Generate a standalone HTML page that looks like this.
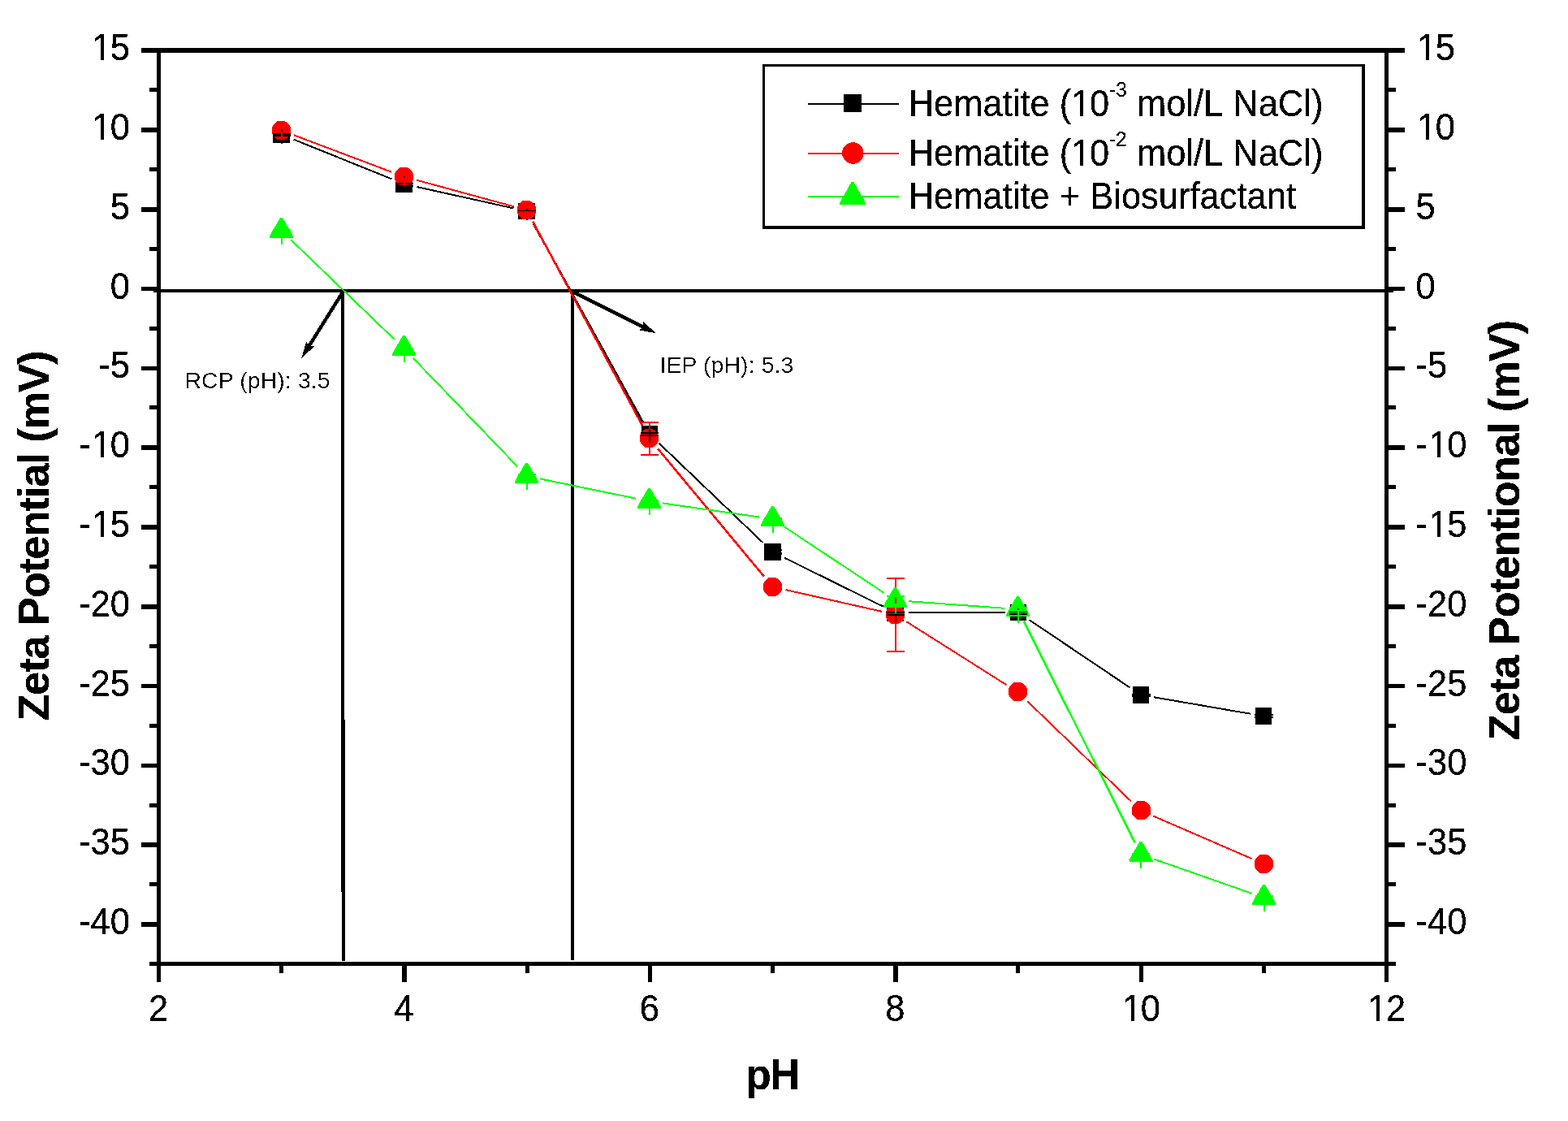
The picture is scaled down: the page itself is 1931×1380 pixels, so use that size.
<!DOCTYPE html>
<html lang="en">
<head>
<meta charset="utf-8">
<title>Zeta Potential vs pH</title>
<style>
html,body{margin:0;padding:0;background:#fff;}
body{width:1931px;height:1380px;overflow:hidden;}
svg{display:block;}
</style>
</head>
<body>
<svg width="1931" height="1380" viewBox="0 0 1931 1380">
<rect width="1931" height="1380" fill="#fff"/>
<g shape-rendering="crispEdges">
<rect x="174" y="59" width="1556" height="6" fill="#000"/>
<rect x="184" y="1184" width="1535" height="5" fill="#000"/>
<rect x="193" y="59" width="5" height="1150" fill="#000"/>
<rect x="1705" y="59" width="5" height="1150" fill="#000"/>
<rect x="184" y="108" width="10" height="5" fill="#000"/>
<rect x="1709" y="108" width="10" height="5" fill="#000"/>
<rect x="174" y="157" width="20" height="6" fill="#000"/>
<rect x="1709" y="157" width="21" height="6" fill="#000"/>
<rect x="184" y="206" width="10" height="5" fill="#000"/>
<rect x="1709" y="206" width="10" height="5" fill="#000"/>
<rect x="174" y="255" width="20" height="6" fill="#000"/>
<rect x="1709" y="255" width="21" height="6" fill="#000"/>
<rect x="184" y="304" width="10" height="5" fill="#000"/>
<rect x="1709" y="304" width="10" height="5" fill="#000"/>
<rect x="174" y="353" width="20" height="5" fill="#000"/>
<rect x="1709" y="353" width="21" height="5" fill="#000"/>
<rect x="184" y="402" width="10" height="5" fill="#000"/>
<rect x="1709" y="402" width="10" height="5" fill="#000"/>
<rect x="174" y="451" width="20" height="5" fill="#000"/>
<rect x="1709" y="451" width="21" height="5" fill="#000"/>
<rect x="184" y="499" width="10" height="5" fill="#000"/>
<rect x="1709" y="499" width="10" height="5" fill="#000"/>
<rect x="174" y="548" width="20" height="6" fill="#000"/>
<rect x="1709" y="548" width="21" height="6" fill="#000"/>
<rect x="184" y="597" width="10" height="5" fill="#000"/>
<rect x="1709" y="597" width="10" height="5" fill="#000"/>
<rect x="174" y="646" width="20" height="6" fill="#000"/>
<rect x="1709" y="646" width="21" height="6" fill="#000"/>
<rect x="184" y="695" width="10" height="5" fill="#000"/>
<rect x="1709" y="695" width="10" height="5" fill="#000"/>
<rect x="174" y="744" width="20" height="6" fill="#000"/>
<rect x="1709" y="744" width="21" height="6" fill="#000"/>
<rect x="184" y="793" width="10" height="5" fill="#000"/>
<rect x="1709" y="793" width="10" height="5" fill="#000"/>
<rect x="174" y="842" width="20" height="5" fill="#000"/>
<rect x="1709" y="842" width="21" height="5" fill="#000"/>
<rect x="184" y="891" width="10" height="5" fill="#000"/>
<rect x="1709" y="891" width="10" height="5" fill="#000"/>
<rect x="174" y="940" width="20" height="5" fill="#000"/>
<rect x="1709" y="940" width="21" height="5" fill="#000"/>
<rect x="184" y="989" width="10" height="5" fill="#000"/>
<rect x="1709" y="989" width="10" height="5" fill="#000"/>
<rect x="174" y="1037" width="20" height="6" fill="#000"/>
<rect x="1709" y="1037" width="21" height="6" fill="#000"/>
<rect x="184" y="1086" width="10" height="5" fill="#000"/>
<rect x="1709" y="1086" width="10" height="5" fill="#000"/>
<rect x="174" y="1135" width="20" height="6" fill="#000"/>
<rect x="1709" y="1135" width="21" height="6" fill="#000"/>
<rect x="344" y="1188" width="5" height="10" fill="#000"/>
<rect x="495" y="1188" width="6" height="21" fill="#000"/>
<rect x="647" y="1188" width="5" height="10" fill="#000"/>
<rect x="798" y="1188" width="5" height="21" fill="#000"/>
<rect x="949" y="1188" width="5" height="10" fill="#000"/>
<rect x="1100" y="1188" width="6" height="21" fill="#000"/>
<rect x="1251" y="1188" width="5" height="10" fill="#000"/>
<rect x="1403" y="1188" width="5" height="21" fill="#000"/>
<rect x="1554" y="1188" width="5" height="10" fill="#000"/>
<rect x="189" y="356" width="1527" height="4" fill="#000"/>
<rect x="420" y="358" width="4" height="528" fill="#000"/>
<rect x="420" y="886" width="5" height="212" fill="#000"/>
<rect x="421" y="1098" width="4" height="85" fill="#000"/>
<rect x="703" y="358" width="4" height="824" fill="#000"/>
</g>
<g shape-rendering="crispEdges">
<line x1="422.5" y1="359.0" x2="380.3" y2="426.4" stroke="#000" stroke-width="4.4"/>
<polygon points="371.3,440.8 377.3,420.3 380.3,426.4 387.1,426.5" fill="#000"/>
<line x1="705.0" y1="359.0" x2="792.8" y2="402.7" stroke="#000" stroke-width="4.4"/>
<polygon points="808.0,410.3 787.1,406.4 792.8,402.7 792.2,396.0" fill="#000"/>
</g>
<g shape-rendering="crispEdges">
<line x1="361.8" y1="171.7" x2="482.2" y2="220.3" stroke="#000" stroke-width="2"/>
<line x1="513.6" y1="230.1" x2="632.4" y2="256.4" stroke="#000" stroke-width="2"/>
<line x1="656.5" y1="274.4" x2="792.0" y2="520.1" stroke="#000" stroke-width="2.6"/>
<line x1="811.9" y1="545.9" x2="939.6" y2="668.1" stroke="#000" stroke-width="2"/>
<line x1="966.3" y1="686.8" x2="1087.7" y2="746.7" stroke="#000" stroke-width="2"/>
<line x1="1119.0" y1="754.0" x2="1237.5" y2="754.0" stroke="#000" stroke-width="2"/>
<line x1="1267.7" y1="763.2" x2="1391.3" y2="846.3" stroke="#000" stroke-width="2"/>
<line x1="1421.3" y1="858.3" x2="1539.7" y2="878.7" stroke="#000" stroke-width="2"/>
<line x1="361.9" y1="166.3" x2="482.1" y2="211.7" stroke="#f00" stroke-width="2"/>
<line x1="513.4" y1="221.8" x2="632.6" y2="254.2" stroke="#f00" stroke-width="2"/>
<line x1="656.3" y1="273.0" x2="791.7" y2="525.0" stroke="#f00" stroke-width="2.6"/>
<line x1="810.0" y1="552.2" x2="941.0" y2="709.8" stroke="#f00" stroke-width="2.6"/>
<line x1="967.6" y1="726.1" x2="1086.4" y2="752.9" stroke="#f00" stroke-width="2"/>
<line x1="1116.4" y1="765.3" x2="1239.6" y2="843.2" stroke="#f00" stroke-width="2"/>
<line x1="1265.4" y1="863.4" x2="1393.1" y2="986.6" stroke="#f00" stroke-width="2"/>
<line x1="1420.1" y1="1004.5" x2="1541.4" y2="1057.0" stroke="#f00" stroke-width="2"/>
<line x1="358.4" y1="295.4" x2="485.6" y2="417.6" stroke="#0f0" stroke-width="2"/>
<line x1="508.9" y1="440.9" x2="637.1" y2="574.1" stroke="#0f0" stroke-width="2"/>
<line x1="664.7" y1="589.3" x2="783.3" y2="613.7" stroke="#0f0" stroke-width="2"/>
<line x1="815.8" y1="619.4" x2="935.2" y2="636.6" stroke="#0f0" stroke-width="2"/>
<line x1="965.3" y1="648.1" x2="1088.7" y2="729.9" stroke="#0f0" stroke-width="2"/>
<line x1="1119.0" y1="740.2" x2="1237.0" y2="748.8" stroke="#0f0" stroke-width="2"/>
<line x1="1260.9" y1="764.7" x2="1397.6" y2="1037.3" stroke="#0f0" stroke-width="2.6"/>
<line x1="1420.6" y1="1057.4" x2="1540.9" y2="1099.6" stroke="#0f0" stroke-width="2"/>
<rect x="336" y="155" width="21" height="21" fill="#000"/>
<rect x="487" y="216" width="21" height="21" fill="#000"/>
<rect x="638" y="250" width="21" height="20" fill="#000"/>
<rect x="790" y="524" width="20" height="21" fill="#000"/>
<rect x="941" y="669" width="21" height="21" fill="#000"/>
<rect x="1092" y="744" width="21" height="21" fill="#000"/>
<rect x="1244" y="744" width="20" height="20" fill="#000"/>
<rect x="1395" y="845" width="20" height="21" fill="#000"/>
<rect x="1546" y="871" width="20" height="21" fill="#000"/>
<path d="M341 149h10v1h-10zM340 150h13v1h-13zM339 151h15v1h-15zM338 152h17v1h-17zM337 153h19v1h-19zM336 154h21v1h-21zM336 155h21v1h-21zM335 156h23v1h-23zM335 157h23v1h-23zM335 158h23v1h-23zM335 159h23v1h-23zM335 160h23v1h-23zM335 161h23v1h-23zM335 162h23v1h-23zM335 163h23v1h-23zM335 164h23v1h-23zM336 165h21v1h-21zM336 166h21v1h-21zM337 167h19v1h-19zM338 168h17v1h-17zM339 169h15v1h-15zM340 170h13v1h-13zM341 171h10v1h-10z" fill="#f00"/>
<path d="M492 206h10v1h-10zM491 207h13v1h-13zM490 208h15v1h-15zM489 209h17v1h-17zM488 210h19v1h-19zM487 211h21v1h-21zM487 212h21v1h-21zM486 213h23v1h-23zM486 214h23v1h-23zM486 215h23v1h-23zM486 216h23v1h-23zM486 217h23v1h-23zM486 218h23v1h-23zM486 219h23v1h-23zM486 220h23v1h-23zM486 221h23v1h-23zM487 222h21v1h-21zM487 223h21v1h-21zM488 224h19v1h-19zM489 225h17v1h-17zM490 226h15v1h-15zM491 227h13v1h-13zM492 228h10v1h-10z" fill="#f00"/>
<path d="M643 247h10v1h-10zM642 248h13v1h-13zM641 249h15v1h-15zM640 250h17v1h-17zM639 251h19v1h-19zM638 252h21v1h-21zM638 253h21v1h-21zM637 254h23v1h-23zM637 255h23v1h-23zM637 256h23v1h-23zM637 257h23v1h-23zM637 258h23v1h-23zM637 259h23v1h-23zM637 260h23v1h-23zM637 261h23v1h-23zM637 262h23v1h-23zM638 263h21v1h-21zM638 264h21v1h-21zM639 265h19v1h-19zM640 266h17v1h-17zM641 267h15v1h-15zM642 268h13v1h-13zM643 269h10v1h-10z" fill="#f00"/>
<path d="M794 528h10v1h-10zM793 529h13v1h-13zM792 530h15v1h-15zM791 531h17v1h-17zM790 532h19v1h-19zM789 533h21v1h-21zM789 534h21v1h-21zM788 535h23v1h-23zM788 536h23v1h-23zM788 537h23v1h-23zM788 538h23v1h-23zM788 539h23v1h-23zM788 540h23v1h-23zM788 541h23v1h-23zM788 542h23v1h-23zM788 543h23v1h-23zM789 544h21v1h-21zM789 545h21v1h-21zM790 546h19v1h-19zM791 547h17v1h-17zM792 548h15v1h-15zM793 549h13v1h-13zM794 550h10v1h-10z" fill="#f00"/>
<path d="M946 711h10v1h-10zM945 712h13v1h-13zM944 713h15v1h-15zM943 714h17v1h-17zM942 715h19v1h-19zM941 716h21v1h-21zM941 717h21v1h-21zM940 718h23v1h-23zM940 719h23v1h-23zM940 720h23v1h-23zM940 721h23v1h-23zM940 722h23v1h-23zM940 723h23v1h-23zM940 724h23v1h-23zM940 725h23v1h-23zM940 726h23v1h-23zM941 727h21v1h-21zM941 728h21v1h-21zM942 729h19v1h-19zM943 730h17v1h-17zM944 731h15v1h-15zM945 732h13v1h-13zM946 733h10v1h-10z" fill="#f00"/>
<path d="M1097 745h10v1h-10zM1096 746h13v1h-13zM1095 747h15v1h-15zM1094 748h17v1h-17zM1093 749h19v1h-19zM1092 750h21v1h-21zM1092 751h21v1h-21zM1091 752h23v1h-23zM1091 753h23v1h-23zM1091 754h23v1h-23zM1091 755h23v1h-23zM1091 756h23v1h-23zM1091 757h23v1h-23zM1091 758h23v1h-23zM1091 759h23v1h-23zM1091 760h23v1h-23zM1092 761h21v1h-21zM1092 762h21v1h-21zM1093 763h19v1h-19zM1094 764h17v1h-17zM1095 765h15v1h-15zM1096 766h13v1h-13zM1097 767h10v1h-10z" fill="#f00"/>
<path d="M1248 840h10v1h-10zM1247 841h13v1h-13zM1246 842h15v1h-15zM1245 843h17v1h-17zM1244 844h19v1h-19zM1243 845h21v1h-21zM1243 846h21v1h-21zM1242 847h23v1h-23zM1242 848h23v1h-23zM1242 849h23v1h-23zM1242 850h23v1h-23zM1242 851h23v1h-23zM1242 852h23v1h-23zM1242 853h23v1h-23zM1242 854h23v1h-23zM1242 855h23v1h-23zM1243 856h21v1h-21zM1243 857h21v1h-21zM1244 858h19v1h-19zM1245 859h17v1h-17zM1246 860h15v1h-15zM1247 861h13v1h-13zM1248 862h10v1h-10z" fill="#f00"/>
<path d="M1400 986h10v1h-10zM1399 987h13v1h-13zM1398 988h15v1h-15zM1397 989h17v1h-17zM1396 990h19v1h-19zM1395 991h21v1h-21zM1395 992h21v1h-21zM1394 993h23v1h-23zM1394 994h23v1h-23zM1394 995h23v1h-23zM1394 996h23v1h-23zM1394 997h23v1h-23zM1394 998h23v1h-23zM1394 999h23v1h-23zM1394 1000h23v1h-23zM1394 1001h23v1h-23zM1395 1002h21v1h-21zM1395 1003h21v1h-21zM1396 1004h19v1h-19zM1397 1005h17v1h-17zM1398 1006h15v1h-15zM1399 1007h13v1h-13zM1400 1008h10v1h-10z" fill="#f00"/>
<path d="M1551 1052h10v1h-10zM1550 1053h13v1h-13zM1549 1054h15v1h-15zM1548 1055h17v1h-17zM1547 1056h19v1h-19zM1546 1057h21v1h-21zM1546 1058h21v1h-21zM1545 1059h23v1h-23zM1545 1060h23v1h-23zM1545 1061h23v1h-23zM1545 1062h23v1h-23zM1545 1063h23v1h-23zM1545 1064h23v1h-23zM1545 1065h23v1h-23zM1545 1066h23v1h-23zM1545 1067h23v1h-23zM1546 1068h21v1h-21zM1546 1069h21v1h-21zM1547 1070h19v1h-19zM1548 1071h17v1h-17zM1549 1072h15v1h-15zM1550 1073h13v1h-13zM1551 1074h10v1h-10z" fill="#f00"/>
<polygon points="345,268 348,268 361,290.5 361,293 332,293 332,290.5" fill="#0f0"/>
<polygon points="496,413 499,413 512,435.5 512,438 483,438 483,435.5" fill="#0f0"/>
<polygon points="647,570 650,570 663,592.5 663,595 634,595 634,592.5" fill="#0f0"/>
<polygon points="798,601 801,601 814,623.5 814,626 785,626 785,623.5" fill="#0f0"/>
<polygon points="950,623 953,623 966,645.5 966,648 937,648 937,645.5" fill="#0f0"/>
<polygon points="1101,723 1104,723 1117,745.5 1117,748 1088,748 1088,745.5" fill="#0f0"/>
<polygon points="1252,734 1255,734 1268,756.5 1268,759 1239,759 1239,756.5" fill="#0f0"/>
<polygon points="1403.5,1036 1406.5,1036 1419.5,1058.5 1419.5,1061 1390.5,1061 1390.5,1058.5" fill="#0f0"/>
<polygon points="1555,1089 1558,1089 1571,1111.5 1571,1114 1542,1114 1542,1111.5" fill="#0f0"/>
<rect x="336" y="164" width="22" height="4" fill="#000"/>
<rect x="346" y="159" width="2" height="3" fill="#000"/>
<rect x="346" y="162" width="2" height="10" fill="#f00"/>
<rect x="346" y="176" width="2" height="1" fill="#000"/>
<rect x="487" y="225" width="22" height="2" fill="#000"/>
<rect x="487" y="228" width="22" height="2" fill="#000"/>
<rect x="497" y="225" width="2" height="4" fill="#f00"/>
<rect x="497" y="217" width="2" height="1" fill="#000"/>
<rect x="638" y="259" width="22" height="1" fill="#000"/>
<rect x="648" y="257" width="2" height="2" fill="#000"/>
<rect x="648" y="270" width="2" height="1" fill="#000"/>
<rect x="789" y="519" width="22" height="2" fill="#f00"/>
<rect x="789" y="559" width="22" height="2" fill="#f00"/>
<rect x="799" y="521" width="2" height="8" fill="#f00"/>
<rect x="799" y="551" width="2" height="8" fill="#f00"/>
<rect x="789" y="532" width="22" height="2" fill="#000"/>
<rect x="789" y="535" width="22" height="2" fill="#000"/>
<rect x="799" y="529" width="2" height="16" fill="#000"/>
<rect x="941" y="676" width="22" height="2" fill="#000"/>
<rect x="941" y="680" width="22" height="3" fill="#000"/>
<rect x="1092" y="711" width="22" height="2" fill="#f00"/>
<rect x="1092" y="801" width="22" height="2" fill="#f00"/>
<rect x="1102" y="713" width="2" height="10" fill="#f00"/>
<rect x="1102" y="768" width="2" height="33" fill="#f00"/>
<rect x="1102" y="735" width="2" height="8" fill="#f00"/>
<rect x="1092" y="733" width="22" height="2" fill="#0f0"/>
<rect x="1092" y="753" width="22" height="2" fill="#000"/>
<rect x="1092" y="756" width="22" height="2" fill="#000"/>
<rect x="1102" y="758" width="2" height="8" fill="#000"/>
<rect x="1102" y="748" width="2" height="7" fill="#0f0"/>
<rect x="1243" y="747" width="22" height="2" fill="#0f0"/>
<rect x="1243" y="753" width="22" height="1" fill="#000"/>
<rect x="1243" y="755" width="22" height="2" fill="#000"/>
<rect x="1253" y="751" width="2" height="16" fill="#0f0"/>
<rect x="1253" y="749" width="2" height="2" fill="#000"/>
<rect x="1394" y="854" width="23" height="4" fill="#000"/>
<rect x="1394" y="1001" width="23" height="2" fill="#f00"/>
<rect x="1545" y="879" width="23" height="2" fill="#000"/>
<rect x="1545" y="882" width="23" height="2" fill="#000"/>
<rect x="336" y="282" width="22" height="2" fill="#0f0"/>
<rect x="346" y="293" width="2" height="8" fill="#0f0"/>
<rect x="487" y="428" width="22" height="2" fill="#0f0"/>
<rect x="497" y="438" width="2" height="8" fill="#0f0"/>
<rect x="638" y="583" width="22" height="2" fill="#0f0"/>
<rect x="648" y="595" width="2" height="8" fill="#0f0"/>
<rect x="789" y="615" width="22" height="2" fill="#0f0"/>
<rect x="799" y="626" width="2" height="8" fill="#0f0"/>
<rect x="941" y="637" width="22" height="2" fill="#0f0"/>
<rect x="951" y="648" width="2" height="8" fill="#0f0"/>
<rect x="1394" y="1050" width="22" height="2" fill="#0f0"/>
<rect x="1404" y="1061" width="2" height="8" fill="#0f0"/>
<rect x="1546" y="1102" width="22" height="2" fill="#0f0"/>
<rect x="1556" y="1114" width="2" height="8" fill="#0f0"/>
</g>
<g shape-rendering="crispEdges">
<rect x="939" y="79" width="742" height="3" fill="#000"/>
<rect x="939" y="79" width="3" height="203" fill="#000"/>
<rect x="1677" y="79" width="4" height="203" fill="#000"/>
<rect x="939" y="278" width="742" height="4" fill="#000"/>
<rect x="995" y="127" width="112" height="2" fill="#000"/>
<rect x="1039" y="116" width="22" height="22" fill="#000"/>
<rect x="995" y="188" width="112" height="2" fill="#f00"/>
<circle cx="1050.3" cy="188.5" r="13.25" fill="#f00"/>
<rect x="995" y="241" width="112" height="2" fill="#0f0"/>
<polygon points="1048.5,224 1051.5,224 1066,249.5 1066,252 1034,252 1034,249.5" fill="#0f0"/>
</g>
<defs><filter id="al" x="-0.05" y="-0.05" width="1.1" height="1.1" color-interpolation-filters="sRGB"><feComponentTransfer><feFuncA type="discrete" tableValues="0 1"/></feComponentTransfer></filter><filter id="al2" x="-0.05" y="-0.05" width="1.1" height="1.1" color-interpolation-filters="sRGB"><feComponentTransfer><feFuncA type="discrete" tableValues="0 0 0 0 0 0 1 1 1 1"/></feComponentTransfer></filter></defs>
<g font-family="'Liberation Sans', sans-serif" fill="#000" stroke="#000" stroke-width="0.25" stroke-linejoin="round" font-size="46.0" filter="url(#al)">
<text transform="translate(111.61,74.1) scale(0.9457,1)"><tspan dx="1.52">1</tspan><tspan dx="-1.52">5</tspan></text>
<text transform="translate(1743.50,74.1) scale(0.9457,1)"><tspan dx="1.52">1</tspan><tspan dx="-1.52">5</tspan></text>
<text transform="translate(111.61,171.9) scale(0.9457,1)"><tspan dx="1.52">1</tspan><tspan dx="-1.52">0</tspan></text>
<text transform="translate(1743.50,171.9) scale(0.9457,1)"><tspan dx="1.52">1</tspan><tspan dx="-1.52">0</tspan></text>
<text transform="translate(135.81,269.7) scale(0.9457,1)">5</text>
<text transform="translate(1743.50,269.7) scale(0.9457,1)">5</text>
<text transform="translate(135.81,367.5) scale(0.9457,1)">0</text>
<text transform="translate(1743.50,367.5) scale(0.9457,1)">0</text>
<text transform="translate(121.32,465.3) scale(0.9457,1)">-5</text>
<text transform="translate(1743.50,465.3) scale(0.9457,1)">-5</text>
<text transform="translate(97.13,563.1) scale(0.9457,1)">-<tspan dx="1.52">1</tspan><tspan dx="-1.52">0</tspan></text>
<text transform="translate(1743.50,563.1) scale(0.9457,1)">-<tspan dx="1.52">1</tspan><tspan dx="-1.52">0</tspan></text>
<text transform="translate(97.13,660.9) scale(0.9457,1)">-<tspan dx="1.52">1</tspan><tspan dx="-1.52">5</tspan></text>
<text transform="translate(1743.50,660.9) scale(0.9457,1)">-<tspan dx="1.52">1</tspan><tspan dx="-1.52">5</tspan></text>
<text transform="translate(97.13,758.7) scale(0.9457,1)">-20</text>
<text transform="translate(1743.50,758.7) scale(0.9457,1)">-20</text>
<text transform="translate(97.13,856.5) scale(0.9457,1)">-25</text>
<text transform="translate(1743.50,856.5) scale(0.9457,1)">-25</text>
<text transform="translate(97.13,954.3) scale(0.9457,1)">-30</text>
<text transform="translate(1743.50,954.3) scale(0.9457,1)">-30</text>
<text transform="translate(97.13,1052.1) scale(0.9457,1)">-35</text>
<text transform="translate(1743.50,1052.1) scale(0.9457,1)">-35</text>
<text transform="translate(97.13,1149.9) scale(0.9457,1)">-40</text>
<text transform="translate(1743.50,1149.9) scale(0.9457,1)">-40</text>
<text transform="translate(183.00,1257.0) scale(0.9457,1)">2</text>
<text transform="translate(485.40,1257.0) scale(0.9457,1)">4</text>
<text transform="translate(787.80,1257.0) scale(0.9457,1)">6</text>
<text transform="translate(1090.20,1257.0) scale(0.9457,1)">8</text>
<text transform="translate(1380.51,1257.0) scale(0.9457,1)"><tspan dx="1.52">1</tspan><tspan dx="-1.52">0</tspan></text>
<text transform="translate(1682.91,1257.0) scale(0.9457,1)"><tspan dx="1.52">1</tspan><tspan dx="-1.52">2</tspan></text>
<text transform="translate(1118.70,143.0) scale(0.9457,1)">Hematite (<tspan x="212.04">1</tspan><tspan x="236.24">0</tspan><tspan font-size="26.5" stroke-width="0.15" x="261.39" dy="-24.4">-</tspan><tspan font-size="26.5" stroke-width="0.15" x="270.02">3</tspan><tspan x="284.59" dy="24.4"> mol/L</tspan><tspan x="409.71"> NaCl)</tspan></text>
<text transform="translate(1118.70,204.0) scale(0.9457,1)">Hematite (<tspan x="212.04">1</tspan><tspan x="236.24">0</tspan><tspan font-size="26.5" stroke-width="0.15" x="261.39" dy="-24.4">-</tspan><tspan font-size="26.5" stroke-width="0.15" x="269.70">2</tspan><tspan x="284.59" dy="24.4"> mol/L</tspan><tspan x="409.71"> NaCl)</tspan></text>
<text transform="translate(1118.70,257.0) scale(0.9457,1)">Hematite + Biosurfactant</text>
<text x="227.4" y="478" font-size="28.4" stroke-width="0" filter="url(#al2)" letter-spacing="0.12">RCP (pH): 3.5</text>
<text x="812.4" y="459" font-size="28.4" stroke-width="0" filter="url(#al2)" letter-spacing="0.12">IEP (pH): 5.3</text>
<text transform="translate(60,659.8) rotate(-90) scale(0.967,1)" text-anchor="middle" font-weight="bold" font-size="54.4" letter-spacing="-1.2">Zeta Potential (mV)</text>
<text transform="translate(1870.7,653.2) rotate(-90) scale(0.967,1)" text-anchor="middle" font-weight="bold" font-size="54.4" letter-spacing="-1.2">Zeta Potentional (mV)</text>
<text transform="translate(951,1341) scale(0.955,1)" text-anchor="middle" font-weight="bold" font-size="54.0" letter-spacing="-1.6">pH</text>
</g>
<g shape-rendering="crispEdges" fill="#fff">
<rect x="115" y="69" width="9" height="7"/>
<rect x="128" y="69" width="9" height="7"/>
<rect x="1747" y="69" width="9" height="7"/>
<rect x="1760" y="69" width="9" height="7"/>
<rect x="115" y="167" width="9" height="6"/>
<rect x="128" y="167" width="9" height="6"/>
<rect x="1747" y="167" width="9" height="6"/>
<rect x="1760" y="167" width="9" height="6"/>
<rect x="115" y="558" width="9" height="7"/>
<rect x="128" y="558" width="9" height="7"/>
<rect x="1761" y="558" width="9" height="7"/>
<rect x="1774" y="558" width="9" height="7"/>
<rect x="115" y="656" width="9" height="6"/>
<rect x="128" y="656" width="9" height="6"/>
<rect x="1761" y="656" width="9" height="6"/>
<rect x="1774" y="656" width="9" height="6"/>
<rect x="1384" y="1252" width="9" height="6"/>
<rect x="1397" y="1252" width="9" height="6"/>
<rect x="1686" y="1252" width="9" height="6"/>
<rect x="1699" y="1252" width="9" height="6"/>
<rect x="1321" y="138" width="9" height="6"/>
<rect x="1334" y="138" width="9" height="6"/>
<rect x="1321" y="199" width="9" height="6"/>
<rect x="1334" y="199" width="9" height="6"/>
</g>
</svg>
</body>
</html>
